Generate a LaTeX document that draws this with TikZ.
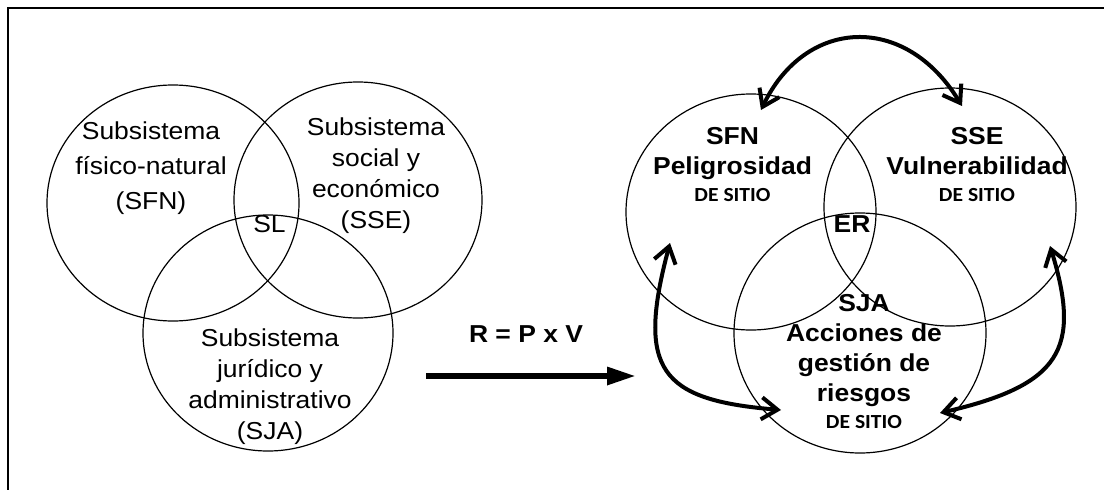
\documentclass[tikz,border=0pt]{standalone}
\usepackage{fontspec}
\setmainfont{Liberation Sans}[FakeStretch=1.08]
\newfontfamily\sitiofont{Carlito}[FakeStretch=1.08]
\usetikzlibrary{
    arrows.meta,
    positioning,
    shapes.geometric,
    calc,
}

\begin{document}
\begin{tikzpicture}[
        x=1pt, y=-1pt,
        circ/.style={ellipse, draw, line width=1.2pt, inner sep=0pt,
            minimum width=252pt, minimum height=236pt},
        lbl/.style={align=center, inner sep=0pt,
            font=\fontsize{24.5}{31}\selectfont},
        blbl/.style={lbl, font=\bfseries\fontsize{24.5}{30}\selectfont},
        link/.style={<->, >={Straight Barb[length=16pt,width=22pt]},
            line width=4pt},
        bigarrow/.style={-{Triangle[length=29pt,width=17pt]}, line width=6pt},
    ]
        \useasboundingbox (0,0) rectangle (1104,490);

        % Frame
        \draw[line width=2pt] (8,490) -- (8,8) -- (1104,8);

        % Subsystems
        \node[circ] (sfn) at (173,203) {};
        \node[circ, minimum width=248pt] (sse) at (358,200) {};
        \node[circ, minimum width=250pt] (sja) at (268,333) {};

        \node[lbl, font=\fontsize{24.5}{35}\selectfont] (tsfn) at (151,168.5)
            {Subsistema\\físico-natural\\(SFN)};
        \node[lbl] (tsse) at (376,175.5)
            {Subsistema\\social y\\económico\\(SSE)};
        \node[lbl] (tsja) at (270,387)
            {Subsistema\\jurídico y\\administrativo\\(SJA)};
        \node[lbl] (sl) at (269.5,224) {SL};

        % Risk
        \node[blbl] (formula) at (526,334) {R = P x V};
        \coordinate (arrS) at (426,376);
        \coordinate (arrE) at (636,376);
        \draw[bigarrow] (arrS) -- (arrE);

        % Risk components
        \node[circ, minimum width=250pt] (sfnR) at (751,212) {};
        \node[circ, minimum height=238pt] (sseR) at (950,207) {};
        \node[circ, minimum height=240pt] (sjaR) at (860,333) {};

        \node[blbl] (tsfnR) at (732.5,164.75)
            {SFN\\Peligrosidad\\[-3.5pt]{\sitiofont\fontsize{20}{20}\selectfont DE SITIO}};
        \node[blbl] (tsseR) at (977,164.75)
            {SSE\\Vulnerabilidad\\[-3.5pt]{\sitiofont\fontsize{20}{20}\selectfont DE SITIO}};
        \node[blbl] (tsjaR) at (864,362)
            {SJA\\Acciones de\\gestión de\\riesgos\\[-3pt]{\sitiofont\fontsize{20}{20}\selectfont DE SITIO}};
        \node[blbl] (er) at (852,224) {ER};

        % Interactions
        \coordinate (topL) at (761,110);
        \coordinate (topR) at (962,106);
        \coordinate (leftU) at (670,243);
        \coordinate (leftD) at (781,410);
        \coordinate (rightU) at (1050,246);
        \coordinate (rightD) at (940,413);
        \draw[link] (topL) .. controls (805,18) and (905,12) .. (topR);
        \draw[link] (leftU) .. controls (636,370) and (660,400) .. (leftD);
        \draw[link] (rightU) .. controls (1082,350) and (1060,385) .. (rightD);
    \end{tikzpicture}
\end{document}
